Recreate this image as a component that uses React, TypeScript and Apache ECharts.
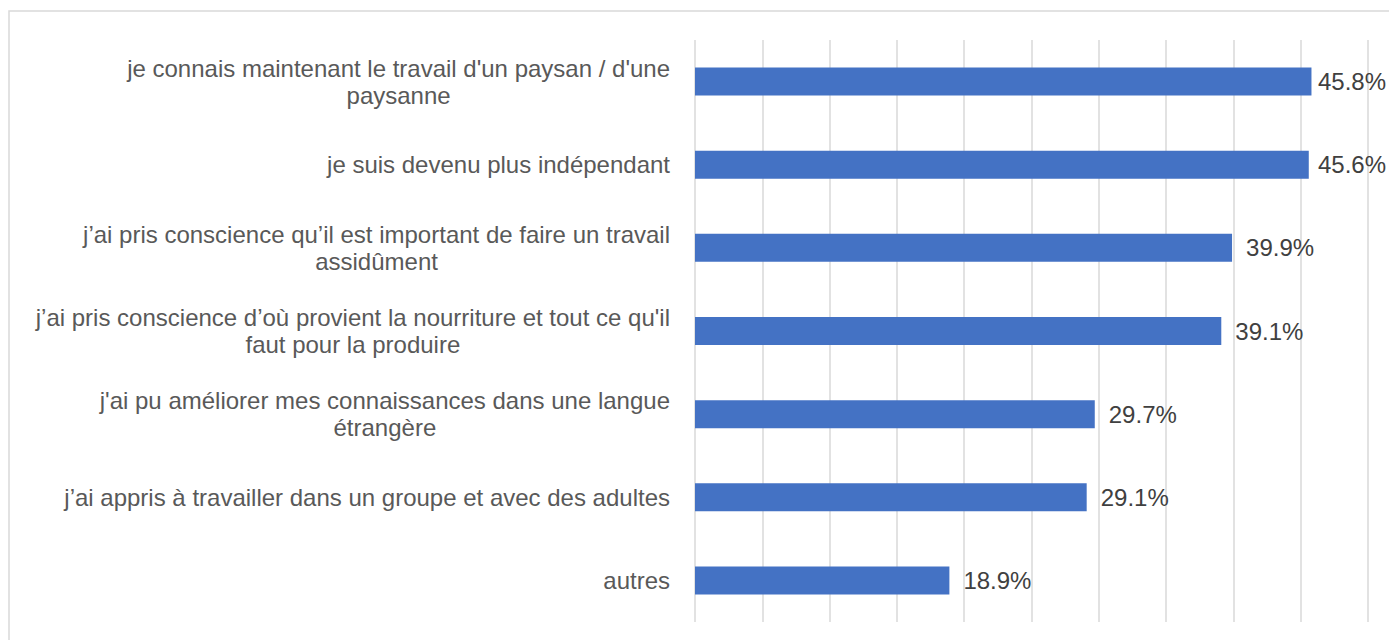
import React, { useEffect, useRef } from "react";
import * as echarts from "echarts";

const categories: string[] = [
  "je connais maintenant le travail d'un paysan / d'une\npaysanne",
  "je suis devenu plus indépendant",
  "j’ai pris conscience qu’il est important de faire un travail\nassidûment",
  "j’ai pris conscience d’où provient la nourriture et tout ce qu'il\nfaut pour la produire",
  "j'ai pu améliorer mes connaissances dans une langue\nétrangère",
  "j’ai appris à travailler dans un groupe et avec des adultes",
  "autres",
];

const values: number[] = [45.8, 45.6, 39.9, 39.1, 29.7, 29.1, 18.9];

const FONT = "'Liberation Sans', Arial, Helvetica, sans-serif";
const FS = 24;

export default function App() {
  const ref = useRef<HTMLDivElement>(null);
  useEffect(() => {
    if (!ref.current) return;
    const chart = echarts.init(ref.current, undefined, { renderer: "svg" });
    const gridLeft = 695;
    const gridRight = 21;
    const plotW = 1389 - gridLeft - gridRight;
    const labelW = 70;
    const data = values.map((v) => {
      const barEnd = gridLeft + (v / 50) * plotW;
      const d = Math.min(14, 1388 - labelW - barEnd);
      return { value: v, label: { distance: d } };
    });
    chart.setOption({
      animation: false,
      backgroundColor: "#ffffff",
      graphic: [
        {
          type: "rect",
          silent: true,
          shape: { x: 9, y: 11, width: 1420, height: 700 },
          style: { fill: "none", stroke: "#d9d9d9", lineWidth: 1.5 },
        },
      ],
      grid: { left: gridLeft, right: gridRight, top: 40, bottom: 18, containLabel: false },
      xAxis: {
        type: "value",
        min: 0,
        max: 50,
        interval: 5,
        axisLabel: { show: false },
        axisLine: { show: false },
        axisTick: { show: false },
        splitLine: { show: true, lineStyle: { color: "#d9d9d9", width: 1.5 } },
      },
      yAxis: {
        type: "category",
        inverse: true,
        data: categories,
        axisLine: { show: false },
        axisTick: { show: false },
        axisLabel: {
          margin: 25,
          align: "right",
          color: "#595959",
          fontFamily: FONT,
          fontSize: FS,
          lineHeight: 27,
          formatter: (v: string) =>
            v
              .split("\n")
              .map((l) => "{c|" + l + "}")
              .join("\n"),
          rich: {
            c: {
              align: "center",
              color: "#595959",
              fontFamily: FONT,
              fontSize: FS,
              lineHeight: 27,
            },
          },
        },
      },
      series: [
        {
          type: "bar",
          data,
          barWidth: 28,
          itemStyle: { color: "#4472C4" },
          label: {
            show: true,
            position: "right",
            distance: 14,
            color: "#404040",
            fontFamily: FONT,
            fontSize: FS,
            formatter: (p: any) => Number(p.value).toFixed(1) + "%",
          },
        },
      ],
    });
    return () => chart.dispose();
  }, []);
  return (
    <div
      ref={ref}
      style={{ position: "fixed", left: 0, top: 0, width: 1389, height: 640 }}
    />
  );
}
